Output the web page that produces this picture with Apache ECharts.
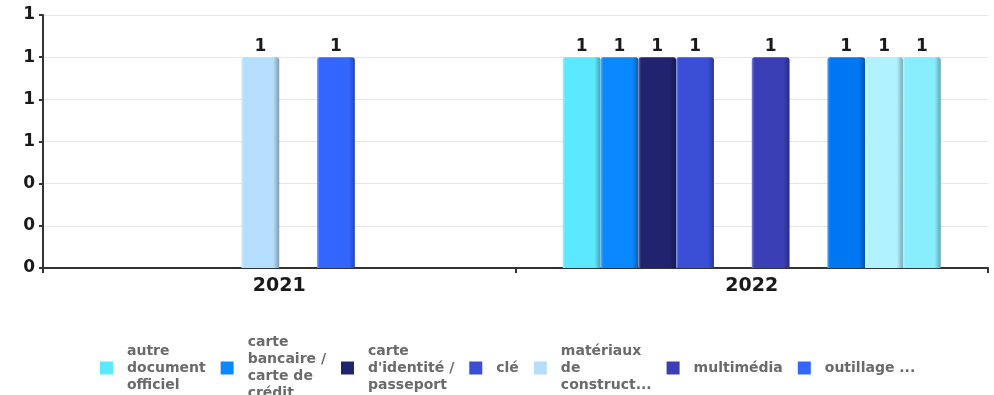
<!DOCTYPE html>
<html>
<head>
    <meta charset="utf-8">
    <title>Objets trouvés</title>
    <script src="https://cdn.jsdelivr.net/npm/echarts@6/dist/echarts.min.js"></script>
    <style>
        html, body { margin: 0; padding: 0; background: #fff; }
    </style>
</head>
<body>
    <div id="main" style="width:994px;height:395px;"></div>
    <script type="text/javascript">
        var years = ['2021', '2022'];
        var seriesNames = [
            'autre document officiel',
            'carte bancaire / carte de crédit',
            "carte d'identité / passeport",
            'clé',
            'matériaux de construction',
            'multimédia',
            'outillage',
            'portefeuille',
            'sac / bagage',
            'téléphone'
        ];
        var legendLabels = [
            'autre\ndocument\nofficiel',
            'carte\nbancaire /\ncarte de\ncrédit',
            "carte\nd'identité /\npasseport",
            'clé',
            'matériaux\nde\nconstruct...',
            'multimédia',
            'outillage ...',
            'portefeuille',
            'sac /\nbagage',
            'téléphone'
        ];
        // counts per year, '-' = nothing that year
        var counts = [
            ['-', 1],
            ['-', 1],
            ['-', 1],
            ['-', 1],
            [1, '-'],
            ['-', 1],
            [1, '-'],
            ['-', 1],
            ['-', 1],
            ['-', 1]
        ];
        var colors = ['#5ce8ff', '#0a88ff', '#20246e', '#3a4ed6', '#b5defd',
                      '#3a3fb6', '#3366ff', '#0077f2', '#b0f2ff', '#88edfc'];

        function shade(hex, f) {
            var n = parseInt(hex.slice(1), 16);
            var r = (n >> 16) & 255, g = (n >> 8) & 255, b = n & 255;
            function m(v) {
                v = f > 0 ? v + (255 - v) * f : v * (1 + f);
                return Math.max(0, Math.min(255, Math.round(v)));
            }
            return 'rgb(' + m(r) + ',' + m(g) + ',' + m(b) + ')';
        }

        function barFill(c) {
            return new echarts.graphic.LinearGradient(0, 0, 1, 0, [
                { offset: 0, color: shade(c, 0.35) },
                { offset: 0.07, color: c },
                { offset: 0.84, color: c },
                { offset: 1, color: shade(c, -0.3) }
            ]);
        }

        var series = seriesNames.map(function (name, i) {
            return {
                name: name,
                type: 'bar',
                data: counts[i],
                barGap: '0%',
                barCategoryGap: '20%',
                itemStyle: { color: barFill(colors[i]), borderRadius: [3, 3, 0, 0] },
                label: {
                    show: true,
                    position: 'top',
                    distance: 2,
                    color: '#1a1a1a',
                    fontFamily: 'DejaVu Sans',
                    fontWeight: 'bold',
                    fontSize: 17
                }
            };
        });

        var myChart = echarts.init(document.getElementById('main'));
        var option = {
            animation: false,
            color: colors,
            grid: { left: 43, right: 6, top: 15, bottom: 127, containLabel: false },
            legend: {
                left: 95,
                top: 329,
                width: 840,
                height: 200,
                itemWidth: 13,
                itemHeight: 13,
                itemGap: 15,
                icon: 'rect',
                data: seriesNames.map(function (n, i) {
                    return { name: n, itemStyle: { color: colors[i] } };
                }),
                formatter: function (name) {
                    return legendLabels[seriesNames.indexOf(name)];
                },
                textStyle: {
                    color: '#6a6a6a',
                    fontFamily: 'DejaVu Sans',
                    fontWeight: 'bold',
                    fontSize: 14,
                    lineHeight: 17,
                    padding: [0, 0, 0, 9]
                }
            },
            xAxis: {
                type: 'category',
                data: years,
                axisLine: { lineStyle: { color: '#333', width: 2 } },
                axisTick: { show: true, length: 5, lineStyle: { color: '#333', width: 2 } },
                axisLabel: {
                    color: '#1a1a1a',
                    fontFamily: 'DejaVu Sans',
                    fontWeight: 'bold',
                    fontSize: 19,
                    margin: 9
                }
            },
            yAxis: {
                type: 'value',
                min: 0,
                max: 1.2,
                interval: 0.2,
                axisLine: { show: true, lineStyle: { color: '#333', width: 2 } },
                axisTick: { show: true, length: 4, lineStyle: { color: '#333', width: 2 } },
                splitLine: { lineStyle: { color: '#e6e6e6', width: 1 } },
                axisLabel: {
                    color: '#1a1a1a',
                    fontFamily: 'DejaVu Sans',
                    fontWeight: 'bold',
                    fontSize: 17,
                    margin: 8,
                    formatter: function (v) { return String(Math.round(v)); }
                }
            },
            series: series
        };
        myChart.setOption(option);
    </script>
</body>
</html>
